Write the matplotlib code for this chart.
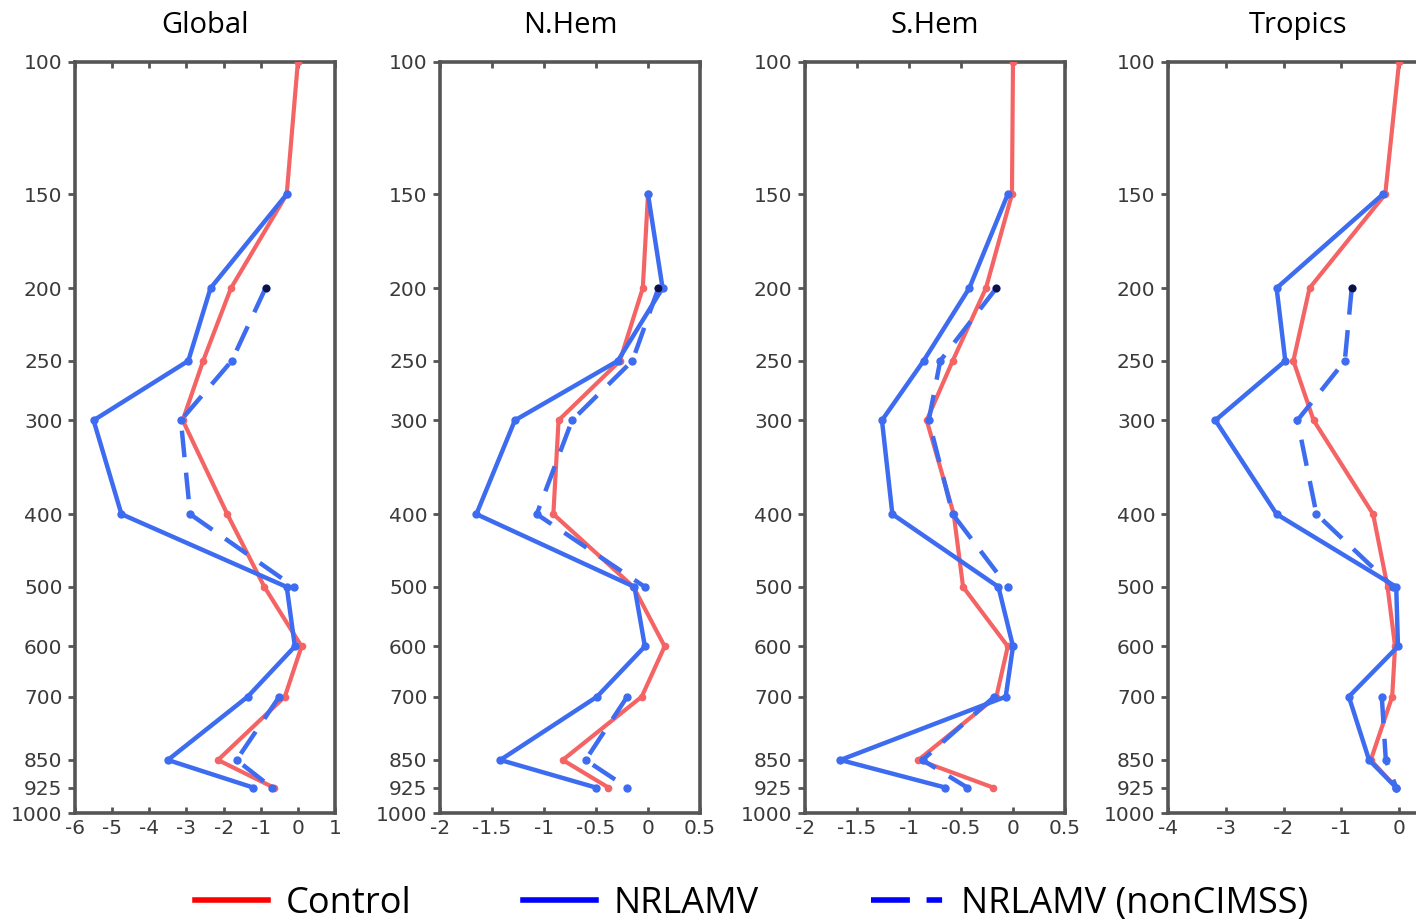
"""Perfis verticais de impacto: Control vs NRLAMV vs NRLAMV (nonCIMSS)."""

import numpy as np
import matplotlib
matplotlib.use("Agg")
import matplotlib.pyplot as plt
from matplotlib.lines import Line2D

nan = np.nan

levels = [100, 150, 200, 250, 300, 400, 500, 600, 700, 850, 925]
ytick_vals = [100, 150, 200, 250, 300, 400, 500, 600, 700, 850, 925, 1000]

regions = ["Global", "N.Hem", "S.Hem", "Tropics"]

global_control = [0.0, -0.3, -1.8, -2.55, -3.1, -1.9, -0.9, 0.1, -0.35, -2.15, -0.65]
global_nrlamv = [nan, -0.3, -2.35, -2.95, -5.5, -4.75, -0.3, -0.08, -1.35, -3.5, -1.2]
global_noncimss = [nan, nan, -0.87, -1.78, -3.15, -2.9, -0.1, nan, -0.5, -1.65, -0.7]

nhem_control = [nan, 0.0, -0.05, -0.27, -0.86, -0.91, -0.14, 0.16, -0.06, -0.82, -0.38]
nhem_nrlamv = [nan, 0.0, 0.14, -0.29, -1.28, -1.65, -0.13, -0.03, -0.49, -1.42, -0.5]
nhem_noncimss = [nan, nan, 0.1, -0.15, -0.73, -1.07, -0.03, nan, -0.2, -0.6, -0.2]

shem_control = [0.0, -0.01, -0.26, -0.58, -0.83, -0.57, -0.48, -0.05, -0.16, -0.91, -0.19]
shem_nrlamv = [nan, -0.05, -0.42, -0.86, -1.26, -1.16, -0.14, 0.0, -0.07, -1.66, -0.65]
shem_noncimss = [nan, nan, -0.16, -0.7, -0.81, -0.58, -0.05, nan, -0.18, -0.87, -0.44]

trop_control = [0.0, -0.24, -1.55, -1.83, -1.48, -0.45, -0.2, -0.07, -0.12, -0.49, -0.05]
trop_nrlamv = [nan, -0.28, -2.12, -1.97, -3.18, -2.12, -0.05, -0.02, -0.87, -0.52, -0.05]
trop_noncimss = [nan, nan, -0.82, -0.94, -1.76, -1.43, -0.1, nan, -0.3, -0.23, -0.05]

global_xticks = [-6, -5, -4, -3, -2, -1, 0, 1]
hem_xticks = [-2, -1.5, -1, -0.5, 0, 0.5]
trop_xticks = [-4, -3, -2, -1, 0]

series = [
    (global_control, global_nrlamv, global_noncimss),
    (nhem_control, nhem_nrlamv, nhem_noncimss),
    (shem_control, shem_nrlamv, shem_noncimss),
    (trop_control, trop_nrlamv, trop_noncimss),
]
xlims = [(-6, 1), (-2, 0.5), (-2, 0.5), (-4, 0.5)]
xticks = [global_xticks, hem_xticks, hem_xticks, trop_xticks]

COR_CONTROL = "#f56464"
COR_NRL = "#3d6cf0"
COR_EIXO = "#555555"

W, H = 1416, 922
fig = plt.figure(figsize=(W / 100, H / 100), dpi=100)

esquerdas = [75, 440, 805, 1168]
largura, fundo, altura = 260, 109, 751

for i, nome in enumerate(regions):
    ax = fig.add_axes([esquerdas[i] / W, fundo / H, largura / W, altura / H])
    ctrl, nrl, nonc = series[i]

    ax.plot(ctrl, levels, color=COR_CONTROL, lw=3, marker="o", ms=4.5,
            solid_capstyle="round", zorder=3)
    ax.plot(nrl, levels, color=COR_NRL, lw=3.2, marker="o", ms=5,
            solid_capstyle="round", zorder=4)
    ax.plot(nonc, levels, color=COR_NRL, lw=3.2, marker="o", ms=5,
            dashes=(6, 3.5), zorder=4)
    # primeiro ponto da série nonCIMSS aparece a preto
    ax.plot(nonc[2], levels[2], "o", color="#101040", ms=4.5, zorder=5)

    ax.set_yscale("log")
    ax.set_ylim(1000, 100)
    ax.set_xlim(*xlims[i])
    ax.set_yticks(ytick_vals)
    ax.set_yticklabels([str(v) for v in ytick_vals])
    ax.yaxis.set_minor_locator(plt.NullLocator())
    ax.set_xticks(xticks[i])
    ax.set_xticklabels(["%g" % v for v in xticks[i]])

    ax.tick_params(axis="both", direction="out", length=5, width=2,
                   color=COR_EIXO, labelcolor="#3a3a3a", labelsize=14.5, pad=4)
    ax.tick_params(axis="x", top=True, direction="in", length=4)
    for sp in ax.spines.values():
        sp.set_color(COR_EIXO)
        sp.set_linewidth(2.6)

    ax.set_title(nome, fontsize=21, family="Open Sans", pad=21)

handles = [
    Line2D([], [], color="#ff0000", lw=4),
    Line2D([], [], color="#0000ff", lw=4),
    Line2D([], [], color="#0000ff", lw=4, dashes=(7, 3, 2.8, 3)),
]
fig.legend(handles, ["Control", "NRLAMV", "NRLAMV (nonCIMSS)"],
           loc="center", bbox_to_anchor=(0.531, 0.02), ncol=3, frameon=False,
           prop={"family": "Open Sans", "size": 26},
           handlelength=2.0, handletextpad=0.5, columnspacing=3.1)

fig.savefig("out.png", dpi=100)
